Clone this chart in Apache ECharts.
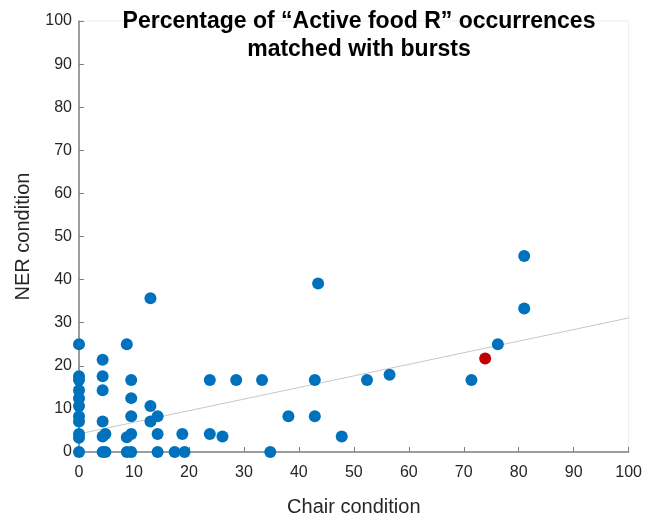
<!DOCTYPE html>
<html>
<head>
<meta charset="utf-8">
<script src="https://cdn.jsdelivr.net/npm/echarts@6/dist/echarts.min.js"></script>
<style>
  html, body { margin: 0; padding: 0; background: #ffffff; }
  #chart { width: 645px; height: 522px; }
</style>
</head>
<body>
<div id="chart"></div>
<script>
// Chair condition (%) vs NER condition (%) per participant
const chairX = [
  0, 0, 0, 0, 0, 0, 0, 0, 0, 0, 0,
  4.3, 4.3, 4.3, 4.3, 4.3, 4.3, 4.8, 4.8,
  8.7, 8.7, 8.7, 9.5, 9.5, 9.5, 9.5, 9.5,
  13.0, 13.0, 13.0, 14.3, 14.3, 14.3,
  17.4, 18.8, 19.2,
  23.8, 23.8, 26.1, 28.6, 33.3, 34.8, 38.1,
  42.9, 42.9, 43.5, 47.8, 52.4, 56.5,
  71.4, 76.2, 81.0, 81.0
];
const nerY = [
  25, 17.6, 16.7, 14.3, 12.5, 10.7, 8.3, 7.1, 4.2, 3.3, 0,
  21.4, 17.6, 14.3, 7.1, 3.6, 0, 4.2, 0,
  25, 3.4, 0, 16.7, 12.5, 8.3, 4.2, 0,
  35.7, 10.7, 7.1, 8.3, 4.2, 0,
  0, 4.2, 0,
  16.7, 4.2, 3.6, 16.7, 16.7, 0, 8.3,
  8.3, 16.7, 39.1, 3.6, 16.7, 17.9,
  16.7, 25, 45.5, 33.3
];
// Highlighted participant
const highlightX = [73.9];
const highlightY = [21.7];
// Linear trend endpoints
const trendX = [0, 100];
const trendY = [4.2, 31.1];

const pairs = (xs, ys) => xs.map((x, i) => [x, ys[i]]);

const chart = echarts.init(document.getElementById('chart'));
const axisColor = '#808080';
const labelColor = '#262626';
const fontFamily = '"Liberation Sans", Arial, Helvetica, sans-serif';

chart.setOption({
  animation: false,
  backgroundColor: '#ffffff',
  title: {
    text: 'Percentage of \u201cActive food R\u201d occurrences\nmatched with bursts',
    left: 354,
    textAlign: 'center',
    top: 3,
    textStyle: {
      fontFamily: fontFamily,
      fontWeight: 'bold',
      fontSize: 23,
      lineHeight: 28,
      color: '#000000'
    }
  },
  grid: {
    left: 79, right: 15, top: 21, bottom: 69,
    show: true,
    borderColor: '#ececec',
    borderWidth: 1,
    backgroundColor: 'transparent'
  },
  xAxis: {
    type: 'value',
    min: 0, max: 100, interval: 10,
    name: 'Chair condition',
    nameLocation: 'middle',
    nameGap: 45,
    nameTextStyle: { fontFamily: fontFamily, fontSize: 20, color: labelColor },
    axisLine: { show: true, lineStyle: { color: axisColor, width: 1.5 } },
    axisTick: { show: true, inside: true, length: 5, lineStyle: { color: axisColor } },
    axisLabel: { fontFamily: fontFamily, fontSize: 16, color: labelColor, margin: 13 },
    splitLine: { show: false }
  },
  yAxis: {
    type: 'value',
    min: 0, max: 100, interval: 10,
    name: 'NER condition',
    nameLocation: 'middle',
    nameGap: 46,
    nameRotate: 90,
    nameTextStyle: { fontFamily: fontFamily, fontSize: 20, color: labelColor },
    axisLine: { show: true, lineStyle: { color: axisColor, width: 1.5 } },
    axisTick: { show: true, inside: true, length: 5, lineStyle: { color: axisColor } },
    axisLabel: { fontFamily: fontFamily, fontSize: 16, color: labelColor, margin: 7 },
    splitLine: { show: false }
  },
  series: [
    {
      type: 'line',
      data: pairs(trendX, trendY),
      symbol: 'none',
      lineStyle: { color: '#c8c8c8', width: 1 },
      z: 1,
      silent: true
    },
    {
      type: 'scatter',
      data: pairs(chairX, nerY),
      symbol: 'circle',
      symbolSize: 12,
      itemStyle: { color: '#0072bd', opacity: 1 },
      z: 3
    },
    {
      type: 'scatter',
      data: pairs(highlightX, highlightY),
      symbol: 'circle',
      symbolSize: 12,
      itemStyle: { color: '#c00000', opacity: 1 },
      z: 4
    }
  ]
});
</script>
</body>
</html>
